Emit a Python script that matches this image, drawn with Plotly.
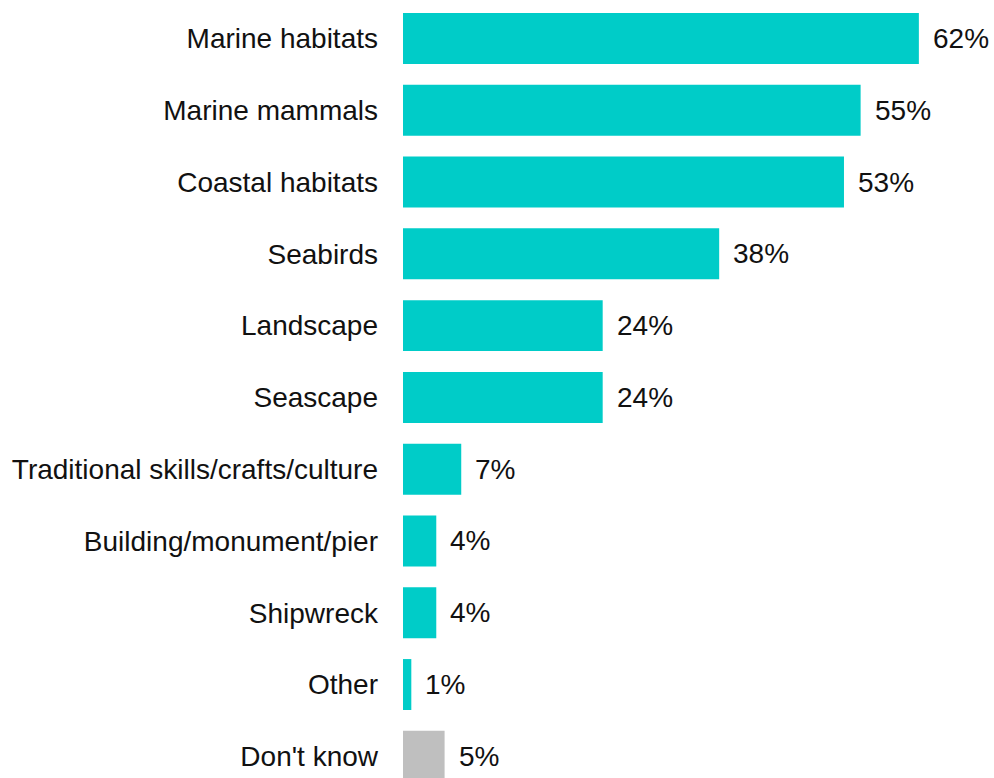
import plotly.graph_objects as go

categories = [
    "Marine habitats",
    "Marine mammals",
    "Coastal habitats",
    "Seabirds",
    "Landscape",
    "Seascape",
    "Traditional skills/crafts/culture",
    "Building/monument/pier",
    "Shipwreck",
    "Other",
    "Don't know",
]
percentages = [62, 55, 53, 38, 24, 24, 7, 4, 4, 1, 5]

TEAL = "#00CCC8"
GREY = "#BFBFBF"
colors = [GREY if c == "Don't know" else TEAL for c in categories]

FONT = dict(family="Liberation Sans, Arial, sans-serif", size=28, color="#111111")

fig = go.Figure(
    go.Bar(
        x=percentages,
        y=categories,
        orientation="h",
        marker=dict(color=colors, line=dict(width=0)),
        width=0.71,
        hoverinfo="skip",
    )
)

# value labels just right of each bar end
for cat, val in zip(categories, percentages):
    fig.add_annotation(
        x=val,
        y=cat,
        text=f"{val}%",
        showarrow=False,
        xanchor="left",
        yanchor="middle",
        xshift=12,
        font=FONT,
    )

fig.update_layout(
    width=994,
    height=778,
    margin=dict(l=403, r=0, t=0, b=0),
    paper_bgcolor="white",
    plot_bgcolor="white",
    showlegend=False,
    font=FONT,
)
fig.update_xaxes(
    range=[0, 71.03],
    visible=False,
    showgrid=False,
    zeroline=False,
)
fig.update_yaxes(
    type="category",
    categoryorder="array",
    categoryarray=categories,
    range=[10.302, -0.5364],
    showgrid=False,
    zeroline=False,
    showline=False,
    ticks="",
    ticklabelstandoff=24,
    tickfont=FONT,
)

fig.write_html("out.html")
